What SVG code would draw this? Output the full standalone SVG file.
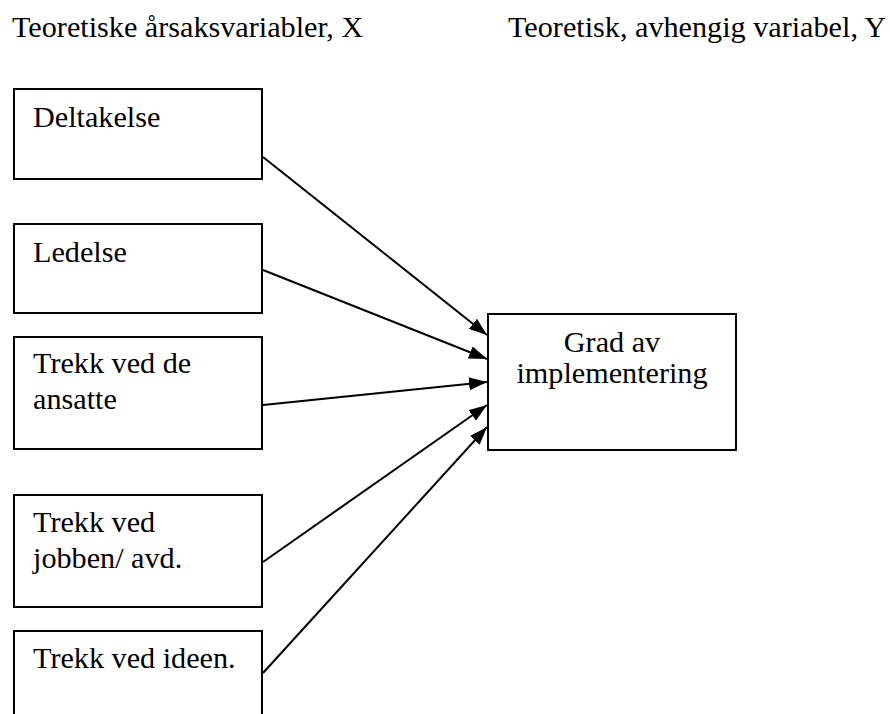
<svg xmlns="http://www.w3.org/2000/svg" width="890" height="714" viewBox="0 0 890 714">
<style>
.t{font-family:'Liberation Serif','Times New Roman',Times,'DejaVu Serif',serif;font-size:30.2px;fill:#000}
.box{fill:#fff;stroke:#000;stroke-width:2}
.c{stroke:#000;stroke-width:2;fill:none;marker-end:url(#ah)}
</style>
<defs>
<marker id="ah" viewBox="0 0 18 13" refX="18" refY="6.5" markerWidth="18" markerHeight="13" markerUnits="userSpaceOnUse" orient="auto">
<path d="M0,0 L18,6.5 L0,13 Z" fill="#000"/>
</marker>
</defs>
<rect width="890" height="714" fill="#fff"/>
<g font-family="Liberation Serif, Times New Roman, serif">
<text class="t" x="12" y="37">Teoretiske årsaksvariabler, X</text>
<text class="t" x="508" y="37">Teoretisk, avhengig variabel, Y</text>
<g id="n1"><rect class="box" x="14" y="89" width="248" height="90"/><text class="t" x="33" y="127">Deltakelse</text></g>
<g id="n2"><rect class="box" x="14" y="224" width="248" height="89"/><text class="t" x="33" y="262">Ledelse</text></g>
<g id="n3"><rect class="box" x="14" y="337" width="248" height="112"/><text class="t" x="33" y="373">Trekk ved de</text><text class="t" x="33" y="409">ansatte</text></g>
<g id="n4"><rect class="box" x="14" y="495" width="248" height="112"/><text class="t" x="33" y="532">Trekk ved</text><text class="t" x="33" y="568">jobben/ avd.</text></g>
<g id="n5"><rect class="box" x="14" y="631" width="248" height="100"/><text class="t" x="33" y="668">Trekk ved ideen.</text></g>
<g id="ny"><rect class="box" x="488" y="314" width="248" height="136"/><text class="t" x="612" y="352" text-anchor="middle">Grad av</text><text class="t" x="612" y="383" text-anchor="middle">implementering</text></g>
</g>
<g id="connectors">
<line class="c" x1="263" y1="157" x2="487" y2="335"/>
<line class="c" x1="263" y1="270" x2="487" y2="359"/>
<line class="c" x1="263" y1="405" x2="487" y2="382"/>
<line class="c" x1="263" y1="562" x2="487" y2="405"/>
<line class="c" x1="263" y1="673" x2="487" y2="427"/>
</g>
</svg>
